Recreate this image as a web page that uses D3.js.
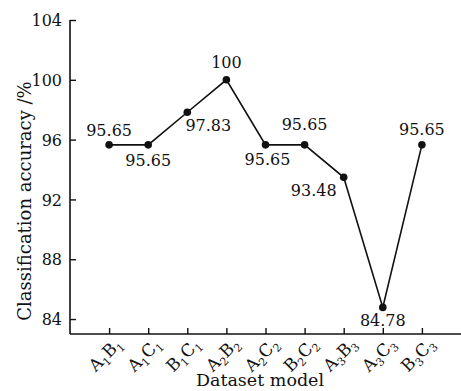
<!DOCTYPE html>
<html>
<head>
<meta charset="UTF-8">
<script src="https://d3js.org/d3.v7.min.js"></script>
<style>
  body { margin: 0; background: #fff; }
  text { font-family: "DejaVu Serif", serif; fill: #111; }
</style>
</head>
<body>
<div id="chart"></div>
<script>
// Donnees
var models = [["A","1","B","1"], ["A","1","C","1"], ["B","1","C","1"], ["A","2","B","2"],
              ["A","2","C","2"], ["B","2","C","2"], ["A","3","B","3"], ["A","3","C","3"], ["B","3","C","3"]];
var accuracy = [95.65, 95.65, 97.83, 100, 95.65, 95.65, 93.48, 84.78, 95.65];
var yTicks = [84, 88, 92, 96, 100, 104];

// placement des etiquettes de valeur (dx, dy par rapport au point)
var labelOffset = [[0, -9], [0, 21], [21, 19], [0, -12], [2, 20], [0, -15], [-30, 19], [0, 19], [0, -10]];

var width = 461, height = 391;
var mLeft = 70, mRight = 461, mTop = 20, mBottom = 334;

var svg = d3.select("#chart").append("svg")
  .attr("width", width)
  .attr("height", height);

var x = d3.scalePoint()
  .domain(d3.range(models.length))
  .range([mLeft, mRight])
  .padding(1);

var y = d3.scaleLinear()
  .domain([83, 104])
  .range([mBottom, mTop]);

// axe Y (graduations vers l'interieur)
var yAxis = svg.append("g")
  .attr("transform", "translate(" + mLeft + ",0)")
  .call(d3.axisRight(y).tickValues(yTicks).tickSize(6).tickSizeOuter(0));
yAxis.select(".domain").attr("stroke", "#111").attr("stroke-width", 1.6)
  .attr("d", "M0," + mTop + "V" + mBottom);
yAxis.selectAll(".tick line").attr("stroke", "#111").attr("stroke-width", 1.4);
yAxis.selectAll(".tick text")
  .attr("x", -8)
  .attr("text-anchor", "end")
  .attr("font-size", "16px")
  .attr("font-family", "DejaVu Serif")
  .attr("fill", "#111")
  .attr("dy", "0.35em");

// axe X
var xAxis = svg.append("g")
  .attr("transform", "translate(0," + mBottom + ")")
  .call(d3.axisTop(x).tickSize(6).tickSizeOuter(0).tickFormat(""));
xAxis.select(".domain").attr("stroke", "#111").attr("stroke-width", 1.6)
  .attr("d", "M" + mLeft + ",0H" + mRight);
xAxis.selectAll(".tick line").attr("stroke", "#111").attr("stroke-width", 1.4);

// etiquettes X avec indices
var xl = svg.append("g").selectAll("text")
  .data(models)
  .enter().append("text")
  .attr("transform", function(d, i) { return "translate(" + (x(i) + 14) + "," + (mBottom + 11) + ") rotate(-45)"; })
  .attr("text-anchor", "end")
  .attr("font-size", "17px");
xl.each(function(d) {
  var t = d3.select(this);
  t.append("tspan").text(d[0]);
  t.append("tspan").text(d[1]).attr("font-size", "11px").attr("dy", "4");
  t.append("tspan").text(d[2]).attr("dy", "-4");
  t.append("tspan").text(d[3]).attr("font-size", "11px").attr("dy", "4");
});

// ligne
var line = d3.line()
  .x(function(d, i) { return x(i); })
  .y(function(d) { return y(d); });

svg.append("path")
  .datum(accuracy)
  .attr("d", line)
  .attr("fill", "none")
  .attr("stroke", "#111")
  .attr("stroke-width", 1.6);

svg.selectAll("circle.pt")
  .data(accuracy)
  .enter().append("circle")
  .attr("class", "pt")
  .attr("cx", function(d, i) { return x(i); })
  .attr("cy", function(d) { return y(d); })
  .attr("r", 3.8)
  .attr("fill", "#111");

svg.selectAll("text.val")
  .data(accuracy)
  .enter().append("text")
  .attr("class", "val")
  .attr("x", function(d, i) { return x(i) + labelOffset[i][0]; })
  .attr("y", function(d, i) { return y(d) + labelOffset[i][1]; })
  .attr("text-anchor", "middle")
  .attr("font-size", "16px")
  .text(function(d) { return d3.format(".2f")(d).replace(/\.00$/, ""); });

// titres des axes
svg.append("text")
  .attr("transform", "translate(31,201) rotate(-90)")
  .attr("text-anchor", "middle")
  .attr("font-size", "18px")
  .text("Classification accuracy /%");

svg.append("text")
  .attr("x", 260)
  .attr("y", 386)
  .attr("text-anchor", "middle")
  .attr("font-size", "17.5px")
  .text("Dataset model");
</script>
</body>
</html>
